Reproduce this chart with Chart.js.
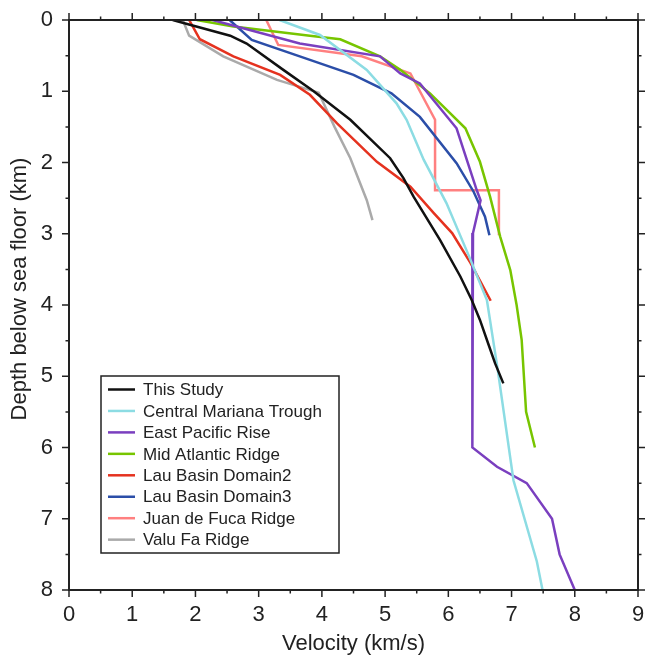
<!DOCTYPE html>
<html>
<head>
<meta charset="utf-8">
<script src="https://cdn.jsdelivr.net/npm/chart.js@4.4.0/dist/chart.umd.min.js"></script>
<style>
  html, body { margin: 0; padding: 0; background: #fff; }
</style>
</head>
<body>
<canvas id="velPlot" width="648" height="655"></canvas>
<script>
// ----------------------------------------------------
// velocity (km/s) vs depth below sea floor (km), one pair of arrays per model
const thisStudyV = [ 1.64, 1.97, 2.55, 2.81, 3.39, 3.87, 4.45, 5.08, 5.29, 5.45, 5.87, 6.19, 6.37, 6.50, 6.63, 6.74, 6.87 ];
const thisStudyD = [ 0.00, 0.08, 0.22, 0.33, 0.70, 1.00, 1.40, 1.94, 2.22, 2.48, 3.09, 3.60, 3.93, 4.21, 4.54, 4.82, 5.10 ];

const marianaV = [ 3.33, 3.97, 4.71, 5.18, 5.34, 5.61, 5.97, 6.32, 6.61, 6.78, 7.03, 7.40, 7.49 ];
const marianaD = [ 0.00, 0.21, 0.70, 1.17, 1.40, 1.96, 2.57, 3.30, 3.93, 4.90, 6.46, 7.60, 8.00 ];

const eprV = [ 2.27, 3.65, 4.92, 5.24, 5.55, 6.13, 6.45, 6.51, 6.39, 6.38, 6.77, 7.24, 7.64, 7.76, 8.00 ];
const eprD = [ 0.00, 0.33, 0.51, 0.75, 0.89, 1.52, 2.39, 2.53, 2.99, 6.00, 6.27, 6.50, 7.00, 7.50, 8.00 ];

const marV = [ 2.02, 2.60, 3.81, 4.29, 4.92, 5.24, 5.71, 6.27, 6.50, 6.66, 6.82, 6.98, 7.08, 7.16, 7.23, 7.37 ];
const marD = [ 0.00, 0.09, 0.22, 0.27, 0.51, 0.70, 1.03, 1.52, 1.99, 2.48, 3.04, 3.51, 4.00, 4.49, 5.50, 6.00 ];

const lau2V = [ 1.90, 2.07, 2.60, 3.34, 3.81, 4.24, 4.87, 5.40, 5.77, 6.06, 6.35, 6.67 ];
const lau2D = [ 0.00, 0.27, 0.51, 0.77, 1.05, 1.45, 1.99, 2.34, 2.71, 2.99, 3.41, 3.94 ];

const lau3V = [ 2.54, 2.89, 3.65, 4.50, 5.10, 5.55, 6.13, 6.40, 6.58, 6.65 ];
const lau3D = [ 0.00, 0.28, 0.51, 0.77, 1.03, 1.36, 2.01, 2.41, 2.76, 3.02 ];

const jdfV = [ 3.12, 3.31, 4.63, 5.40, 5.79, 5.79, 6.80, 6.80 ];
const jdfD = [ 0.00, 0.35, 0.51, 0.75, 1.40, 2.39, 2.39, 3.02 ];

const valuFaV = [ 1.80, 1.90, 2.44, 3.29, 3.95, 4.20, 4.45, 4.71, 4.80 ];
const valuFaD = [ 0.00, 0.22, 0.51, 0.84, 1.02, 1.50, 1.94, 2.53, 2.81 ];

const seriesNames = [ 'This Study', 'Central Mariana Trough', 'East Pacific Rise', 'Mid Atlantic Ridge',
                      'Lau Basin Domain2', 'Lau Basin Domain3', 'Juan de Fuca Ridge', 'Valu Fa Ridge' ];
const seriesV = [ thisStudyV, marianaV, eprV, marV, lau2V, lau3V, jdfV, valuFaV ];
const seriesD = [ thisStudyD, marianaD, eprD, marD, lau2D, lau3D, jdfD, valuFaD ];
const seriesColors = [ '#111111', '#8cdce3', '#7a3fbf', '#77c500', '#e5321f', '#2b4ea8', '#ff8080', '#aaaaaa' ];

const xTicks = [ 0, 1, 2, 3, 4, 5, 6, 7, 8, 9 ];
const yTicks = [ 0, 1, 2, 3, 4, 5, 6, 7, 8 ];
// ----------------------------------------------------
const INK = '#222';
const FONT = 'Liberation Sans, Arial, Helvetica, sans-serif';

// frame with outward ticks on all four sides (major 1, minor 0.5)
const frameTicks = {
    id: 'frameTicks',
    afterDraw( chart ) {
        const { ctx, chartArea: a } = chart;
        const xs = chart.scales.x, ys = chart.scales.y;
        ctx.save();
        ctx.strokeStyle = INK;
        ctx.lineWidth = 1.5;
        ctx.beginPath();
        for ( let v = xs.min; v <= xs.max + 1e-9; v += 0.5 ) {
            const p = xs.getPixelForValue( v );
            const len = Number.isInteger( v ) ? 7 : 3.5;
            ctx.moveTo( p, a.bottom ); ctx.lineTo( p, a.bottom + len );
            ctx.moveTo( p, a.top ); ctx.lineTo( p, a.top - len );
        }
        for ( let v = ys.min; v <= ys.max + 1e-9; v += 0.5 ) {
            const p = ys.getPixelForValue( v );
            const len = Number.isInteger( v ) ? 7 : 3.5;
            ctx.moveTo( a.left, p ); ctx.lineTo( a.left - len, p );
            ctx.moveTo( a.right, p ); ctx.lineTo( a.right + len, p );
        }
        ctx.stroke();
        ctx.lineWidth = 2;
        ctx.strokeRect( a.left, a.top, a.right - a.left, a.bottom - a.top );

        // y axis title, sits a little above the middle of the axis
        ctx.fillStyle = INK;
        ctx.font = '22px ' + FONT;
        ctx.textAlign = 'center';
        ctx.textBaseline = 'middle';
        ctx.translate( 20, ( a.top + a.bottom ) / 2 - 16 );
        ctx.rotate( -Math.PI / 2 );
        ctx.fillText( 'Depth below sea floor (km)', 0, 0 );
        ctx.restore();
    }
};

// boxed legend sitting in the lower left of the plot
const boxLegend = {
    id: 'boxLegend',
    afterDraw( chart ) {
        const { ctx, chartArea: a } = chart;
        const sets = chart.data.datasets;
        const bx = a.left + 32, by = a.bottom - 214, bw = 238, bh = 177;
        const rowH = 21.45;
        ctx.save();
        ctx.fillStyle = '#fff';
        ctx.fillRect( bx, by, bw, bh );
        ctx.strokeStyle = INK;
        ctx.lineWidth = 1.5;
        ctx.strokeRect( bx, by, bw, bh );
        ctx.font = '17px ' + FONT;
        ctx.textBaseline = 'middle';
        sets.forEach( ( ds, i ) => {
            const cy = by + 13.5 + i * rowH;
            ctx.strokeStyle = ds.borderColor;
            ctx.lineWidth = 2.5;
            ctx.beginPath();
            ctx.moveTo( bx + 7, cy ); ctx.lineTo( bx + 34, cy );
            ctx.stroke();
            ctx.fillStyle = INK;
            ctx.fillText( ds.label, bx + 42, cy + 1 );
        });
        ctx.restore();
    }
};

const velPlot = document.getElementById( 'velPlot' );

const velChart = new Chart( velPlot, {
    type: 'scatter',
    data: {
        datasets: seriesNames.map( ( name, i ) => ({
            label: name,
            data: seriesV[ i ].map( ( v, k ) => ({ x: v, y: seriesD[ i ][ k ] }) ),
            showLine: true,
            borderColor: seriesColors[ i ],
            backgroundColor: seriesColors[ i ],
            borderWidth: 2.5,
            pointRadius: 0,
            tension: 0
        }) )
    },
    options: {
        responsive: false,
        animation: false,
        layout: { padding: { top: 20, right: 10, left: 0, bottom: 0 } },
        plugins: { legend: { display: false }, tooltip: { enabled: false } },
        scales: {
            x: {
                type: 'linear',
                min: 0, max: 9,
                grid: { display: false },
                border: { display: false },
                afterBuildTicks: s => { s.ticks = xTicks.map( v => ({ value: v }) ); },
                ticks: { font: { family: FONT, size: 22 }, color: INK, padding: 4, maxRotation: 0 },
                title: { display: true, text: 'Velocity (km/s)', font: { family: FONT, size: 22 }, color: INK,
                         padding: { top: 0, bottom: -2 } },
                afterFit: s => { s.height = 65; s.paddingLeft = 0; s.paddingRight = 0; }
            },
            y: {
                type: 'linear',
                reverse: true,
                min: 0, max: 8,
                grid: { display: false },
                border: { display: false },
                afterBuildTicks: s => { s.ticks = yTicks.map( v => ({ value: v }) ); },
                ticks: { font: { family: FONT, size: 22 }, color: INK, padding: 8 },
                afterFit: s => { s.width = 69; s.paddingTop = 0; s.paddingBottom = 0; }
            }
        }
    },
    plugins: [ frameTicks, boxLegend ]
});
</script>
</body>
</html>
